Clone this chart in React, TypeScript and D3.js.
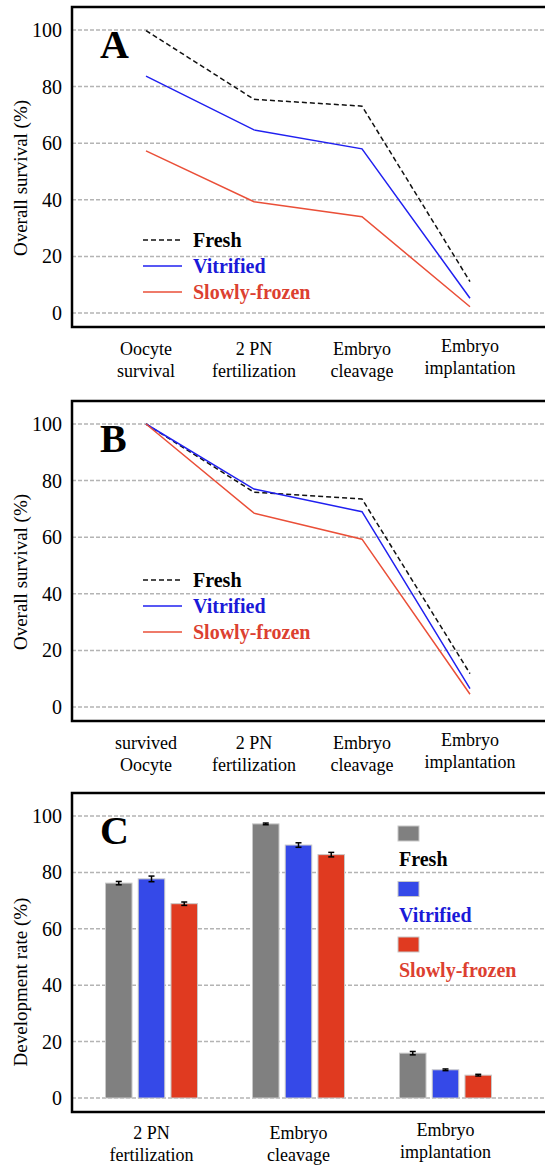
import React from 'react';
import * as d3 from 'd3';

// panel A / B: overall survival through the stages
const stagesA = [['Oocyte', 'survival'], ['2 PN', 'fertilization'], ['Embryo', 'cleavage'], ['Embryo', 'implantation']];
const stagesB = [['survived', 'Oocyte'], ['2 PN', 'fertilization'], ['Embryo', 'cleavage'], ['Embryo', 'implantation']];
const freshA = [99.8, 75.5, 73.1, 11.1];
const vitrifiedA = [83.7, 64.7, 58.0, 5.2];
const slowA = [57.3, 39.3, 34.0, 2.2];
const freshB = [100, 75.9, 73.5, 11.8];
const vitrifiedB = [100, 77.0, 69.0, 6.5];
const slowB = [100, 68.5, 59.3, 4.5];

// panel C: development rate
const stagesC = [['2 PN', 'fertilization'], ['Embryo', 'cleavage'], ['Embryo', 'implantation']];
const freshC = [76.2, 97.2, 15.9];
const vitrifiedC = [77.7, 89.7, 10.0];
const slowC = [68.9, 86.3, 8.1];
const freshErr = [0.6, 0.3, 0.6];
const vitrifiedErr = [1.0, 0.8, 0.3];
const slowErr = [0.6, 0.8, 0.3];

const yTicks = [0, 20, 40, 60, 80, 100];
const groups = ['Fresh', 'Vitrified', 'Slowly-frozen'];

const FONT = 'Liberation Serif, DejaVu Serif, serif';
const lineColor = { Fresh: '#111', Vitrified: '#2020f0', 'Slowly-frozen': '#ea4f38' };
const textColor = { Fresh: '#000', Vitrified: '#1a1ad8', 'Slowly-frozen': '#dc4030' };
const barColor = { Fresh: '#808080', Vitrified: '#3549e8', 'Slowly-frozen': '#e03a20' };

const W = 545;
const frameLeft = 72;

function Frame({ y, letter, title, titleY }) {
  return (
    <g>
      {yTicks.map(t => (
        <g key={t}>
          <line x1={frameLeft} x2={W + 10} y1={y(t)} y2={y(t)} stroke="#b4b4b4" strokeWidth={1.5} strokeDasharray="4,2" />
          <text x={62} y={y(t)} dy="0.35em" textAnchor="end" fontSize={20}>{t}</text>
        </g>
      ))}
      <rect x={frameLeft} y={y(100) - 23} width={W} height={y(0) - y(100) + 37} fill="none" stroke="#000" strokeWidth={2.5} />
      <text x={100} y={y(100) + 28} fontSize={40} fontWeight="bold">{letter}</text>
      <text transform={`translate(27,${titleY}) rotate(-90)`} textAnchor="middle" fontSize={19}>{title}</text>
    </g>
  );
}

function XLabels({ x, labels, base }) {
  return (
    <g>
      {labels.map((l, i) => {
        const dy = i === labels.length - 1 ? -3 : 0;
        return (
          <text key={i} x={x(i)} y={base + dy} textAnchor="middle" fontSize={18}>
            <tspan x={x(i)}>{l[0]}</tspan>
            <tspan x={x(i)} dy={22}>{l[1]}</tspan>
          </text>
        );
      })}
    </g>
  );
}

function LinePanel({ top, letter, stages, series, legendY }) {
  const y = d3.scaleLinear().domain([0, 100]).range([top + 283, top]);
  const x = d3.scalePoint().domain(d3.range(stages.length)).range([146, 470]);
  const line = d3.line().x((d, i) => x(i)).y(d => y(d));
  return (
    <g>
      <Frame y={y} letter={letter} title="Overall survival (%)" titleY={top + 148} />
      {series.map((s, k) => (
        <path key={k} d={line(s)} fill="none" stroke={lineColor[groups[k]]} strokeWidth={1.5}
          strokeDasharray={k === 0 ? '5,3' : null} />
      ))}
      {groups.map((g, k) => (
        <g key={g} transform={`translate(0,${legendY + k * 26})`}>
          <line x1={143} x2={182} y1={0} y2={0} stroke={lineColor[g]} strokeWidth={1.5} strokeDasharray={k === 0 ? '5,3' : null} />
          <text x={193} y={0} dy="0.35em" fontSize={20} fontWeight="bold" fill={textColor[g]}>{g}</text>
        </g>
      ))}
      <XLabels x={x} labels={stages} base={top + 325} />
    </g>
  );
}

function BarPanel({ top }) {
  const y = d3.scaleLinear().domain([0, 100]).range([top + 282, top]);
  const x0 = d3.scaleBand().domain(d3.range(stagesC.length)).range([78, 519]);
  const x1 = d3.scaleBand().domain(groups).range([-46, 46]).paddingInner(0.19);
  const center = i => x0(i) + x0.bandwidth() / 2;
  const values = [freshC, vitrifiedC, slowC];
  const errs = [freshErr, vitrifiedErr, slowErr];
  return (
    <g>
      <Frame y={y} letter="C" title="Development rate (%)" titleY={top + 166} />
      {groups.map((g, k) => values[k].map((v, i) => {
        const bx = center(i) + x1(g);
        const cx = bx + x1.bandwidth() / 2;
        const e = errs[k][i];
        return (
          <g key={g + i}>
            <rect x={bx} y={y(v)} width={x1.bandwidth()} height={y(0) - y(v)} fill={barColor[g]} stroke="#c8c8c8" strokeWidth={1} />
            <line x1={cx} x2={cx} y1={y(v + e)} y2={y(v - e)} stroke="#000" strokeWidth={1.5} />
            <line x1={cx - 3} x2={cx + 3} y1={y(v + e)} y2={y(v + e)} stroke="#000" strokeWidth={1.5} />
            <line x1={cx - 3} x2={cx + 3} y1={y(v - e)} y2={y(v - e)} stroke="#000" strokeWidth={1.5} />
          </g>
        );
      }))}
      {groups.map((g, k) => (
        <g key={g} transform={`translate(398,${top + 10 + k * 55.5})`}>
          <rect x={0} y={0} width={21} height={15} fill={barColor[g]} stroke="#c8c8c8" strokeWidth={1} />
          <text x={1} y={40} fontSize={20} fontWeight="bold" fill={textColor[g]}>{g}</text>
        </g>
      ))}
      <XLabels x={center} labels={stagesC} base={top + 323} />
    </g>
  );
}

export default function App() {
  return (
    <svg width={W} height={1171} fontFamily={FONT} style={{ position: 'absolute', left: 0, top: 0, background: '#fff', fontFamily: FONT }}>
      <rect width={W} height={1171} fill="#fff" />
      <LinePanel top={30} letter="A" stages={stagesA} series={[freshA, vitrifiedA, slowA]} legendY={240} />
      <LinePanel top={424} letter="B" stages={stagesB} series={[freshB, vitrifiedB, slowB]} legendY={580} />
      <BarPanel top={816} />
    </svg>
  );
}
